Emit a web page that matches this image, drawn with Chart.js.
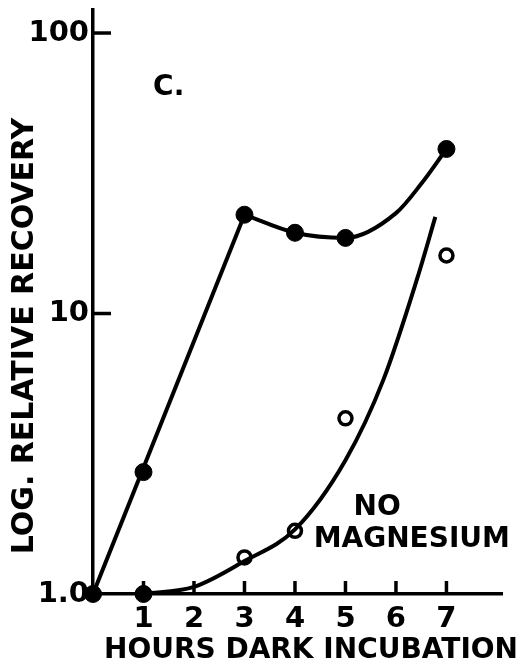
<!DOCTYPE html>
<html>
<head>
<meta charset="utf-8">
<script src="https://cdn.jsdelivr.net/npm/chart.js@4"></script>
<style>
  html, body { margin: 0; padding: 0; background: #ffffff; }
  canvas { display: block; }
</style>
</head>
<body>
<canvas id="recoveryChart" width="520" height="666"></canvas>
<script>
// Log relative recovery vs. hours of dark incubation (panel C)

const xTicks = [1, 2, 3, 4, 5, 6, 7];
const yTicks = [1, 10, 100];
const yTickLabels = { 1: '1.0', 10: '10', 100: '100' };

// measured points, with magnesium (filled circles)
const mgPoints = [
    { x: 0, y: 1.0 }, { x: 1, y: 2.72 }, { x: 1, y: 1.0 }, { x: 3, y: 22.5 },
    { x: 4, y: 19.4 }, { x: 5, y: 18.6 }, { x: 7, y: 38.6 }
];
// straight rise, then the drawn curve through the later points
const mgRise = [{ x: 0, y: 1.0 }, { x: 3, y: 22.5 }];
const mgCurve = [
    { x: 3, y: 22.5 }, { x: 4, y: 19.4 }, { x: 5, y: 18.6 },
    { x: 6, y: 22.8 }, { x: 6.5, y: 29 }, { x: 7, y: 38.6 }
];

// no magnesium (open circles) and its drawn curve
const noMgPoints = [{ x: 3, y: 1.35 }, { x: 4, y: 1.68 }, { x: 5, y: 4.23 }, { x: 7, y: 16.1 }];
const noMgCurve = [
    { x: 1, y: 1.0 }, { x: 2, y: 1.06 }, { x: 3, y: 1.31 }, { x: 4, y: 1.70 },
    { x: 5, y: 3.0 }, { x: 5.75, y: 5.8 }, { x: 6.43, y: 13.5 }, { x: 6.78, y: 22.1 }
];

const notes = [
    { text: 'C.', x: 1.19, y: 60 },
    { text: 'NO', x: 5.16, y: 1.91 },
    { text: 'MAGNESIUM', x: 4.37, y: 1.47 }
];

const xTitle = 'HOURS DARK INCUBATION';
const yTitle = 'LOG. RELATIVE RECOVERY';

const INK = '#000000';
const FONT = '"DejaVu Sans", "Liberation Sans", sans-serif';
const LINE_W = 4;

// --- inward tick marks, notes and axis titles ---

const decorations = {
    id: 'decorations',
    afterDatasetsDraw(chart) {
        const ctx = chart.ctx;
        const xs = chart.scales.x;
        const ys = chart.scales.y;
        const area = chart.chartArea;

        ctx.save();
        ctx.strokeStyle = INK;
        ctx.lineWidth = 3.5;
        ctx.lineCap = 'butt';

        yTicks.forEach((v) => {
            if (v === 1) return;
            const py = ys.getPixelForValue(v);
            ctx.beginPath();
            ctx.moveTo(area.left, py);
            ctx.lineTo(area.left + 18, py);
            ctx.stroke();
        });

        xTicks.forEach((v) => {
            const px = xs.getPixelForValue(v);
            ctx.beginPath();
            ctx.moveTo(px, area.bottom);
            ctx.lineTo(px, area.bottom - 13);
            ctx.stroke();
        });

        ctx.fillStyle = INK;
        ctx.font = 'bold 28px ' + FONT;
        ctx.textAlign = 'left';
        ctx.textBaseline = 'alphabetic';
        notes.forEach((n) => {
            ctx.fillText(n.text, xs.getPixelForValue(n.x), ys.getPixelForValue(n.y));
        });

        ctx.font = 'bold 28px ' + FONT;
        ctx.textAlign = 'center';
        ctx.fillText(xTitle, area.left + 218, area.bottom + 64);

        ctx.font = 'bold 30px ' + FONT;
        ctx.translate(33, area.top + 326);
        ctx.rotate(-Math.PI / 2);
        ctx.fillText(yTitle, 0, 0);
        ctx.restore();
    }
};

const ctx = document.getElementById('recoveryChart').getContext('2d');

new Chart(ctx, {
    type: 'line',
    data: {
        datasets: [
            {
                data: mgRise,
                borderColor: INK, borderWidth: LINE_W,
                pointRadius: 0, tension: 0, fill: false
            },
            {
                data: mgCurve,
                borderColor: INK, borderWidth: LINE_W,
                pointRadius: 0, cubicInterpolationMode: 'monotone', fill: false
            },
            {
                data: noMgCurve,
                borderColor: INK, borderWidth: LINE_W,
                pointRadius: 0, cubicInterpolationMode: 'monotone', fill: false
            },
            {
                data: noMgPoints,
                showLine: false, clip: false,
                pointRadius: 6.5, pointBorderWidth: 3.5,
                pointBackgroundColor: '#ffffff', pointBorderColor: INK
            },
            {
                data: mgPoints,
                showLine: false, clip: false,
                pointRadius: 8.5, pointBorderWidth: 1,
                pointBackgroundColor: INK, pointBorderColor: INK
            }
        ]
    },
    options: {
        responsive: false,
        animation: false,
        layout: { padding: { top: 10, right: 18, left: 0, bottom: 0 } },
        plugins: {
            legend: { display: false },
            tooltip: { enabled: false }
        },
        scales: {
            x: {
                type: 'linear',
                min: 0,
                max: 8.1,
                afterFit: (scale) => {
                    scale.height = 72;
                    scale.paddingLeft = 0;
                    scale.paddingRight = 0;
                },
                afterBuildTicks: (scale) => { scale.ticks = xTicks.map((v) => ({ value: v })); },
                grid: { display: false, drawTicks: false },
                border: { display: true, color: INK, width: 3.5 },
                ticks: {
                    color: INK,
                    padding: 8,
                    maxRotation: 0,
                    autoSkip: false,
                    font: { family: FONT, size: 29, weight: 'bold' },
                    callback: (v) => String(v)
                }
            },
            y: {
                type: 'logarithmic',
                min: 1,
                max: 120.8,
                afterFit: (scale) => {
                    scale.width = 93;
                    scale.paddingTop = 0;
                    scale.paddingBottom = 0;
                },
                afterBuildTicks: (scale) => { scale.ticks = yTicks.map((v) => ({ value: v })); },
                grid: { display: false, drawTicks: false },
                border: { display: true, color: INK, width: 3.5 },
                ticks: {
                    color: INK,
                    padding: 4,
                    autoSkip: false,
                    font: { family: FONT, size: 29, weight: 'bold' },
                    callback: (v) => yTickLabels[v] || ''
                }
            }
        }
    },
    plugins: [decorations]
});
</script>
</body>
</html>
